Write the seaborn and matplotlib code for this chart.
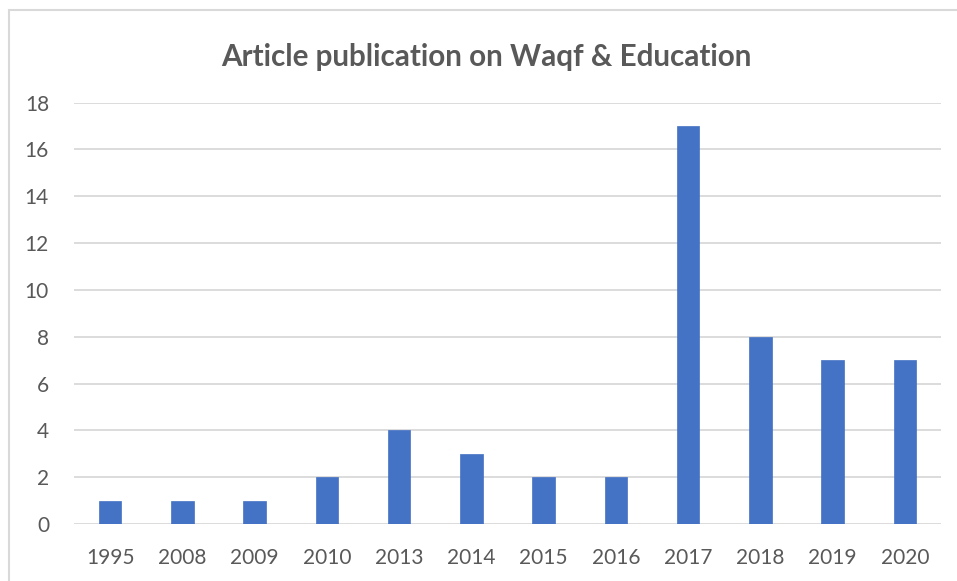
import numpy as np
import pandas as pd
import matplotlib.pyplot as plt
import seaborn as sns
from matplotlib.patches import Rectangle

years = ["1995", "2008", "2009", "2010", "2013", "2014", "2015", "2016", "2017", "2018", "2019", "2020"]
articles = [1, 1, 1, 2, 4, 3, 2, 2, 17, 8, 7, 7]

df = pd.DataFrame({"Year": years, "Articles": articles})

sns.set_style("white")
plt.rcParams['font.family'] = ['Lato', 'DejaVu Sans']

fig = plt.figure(figsize=(9.57, 5.81), dpi=100)
ax = fig.add_axes([74 / 957, 1 - 524 / 581, 867 / 957, (524 - 102.5) / 581])

sns.barplot(data=df, x="Year", y="Articles", color="#4472C4", width=0.31, saturation=1,
            edgecolor="#4472C4", linewidth=0.5, ax=ax)

ax.set_ylim(0, 18)
ax.set_yticks(range(0, 19, 2))
ax.set_xlim(-0.5, len(years) - 0.5)
ax.grid(axis="y", color="#D9D9D9", linewidth=1.3)
ax.set_axisbelow(True)
for s in ax.spines.values():
    s.set_visible(False)
ax.tick_params(axis="both", length=0, labelsize=15, labelcolor="#595959")
ax.tick_params(axis="y", pad=18)
ax.tick_params(axis="x", pad=17)
ax.set_xlabel("")
ax.set_ylabel("")

fig.text(0.508, 1 - 57 / 581, "Article publication on Waqf & Education",
         ha="center", va="center", fontsize=21.3, fontweight="bold", color="#595959")

# chart area border
fig.patches.append(Rectangle((9 / 957, -0.1), 1.2, 1 - 10 / 581 + 0.1, transform=fig.transFigure,
                             fill=False, edgecolor="#D9D9D9", linewidth=1.5))

fig.savefig("out.png", dpi=100)
plt.close()
